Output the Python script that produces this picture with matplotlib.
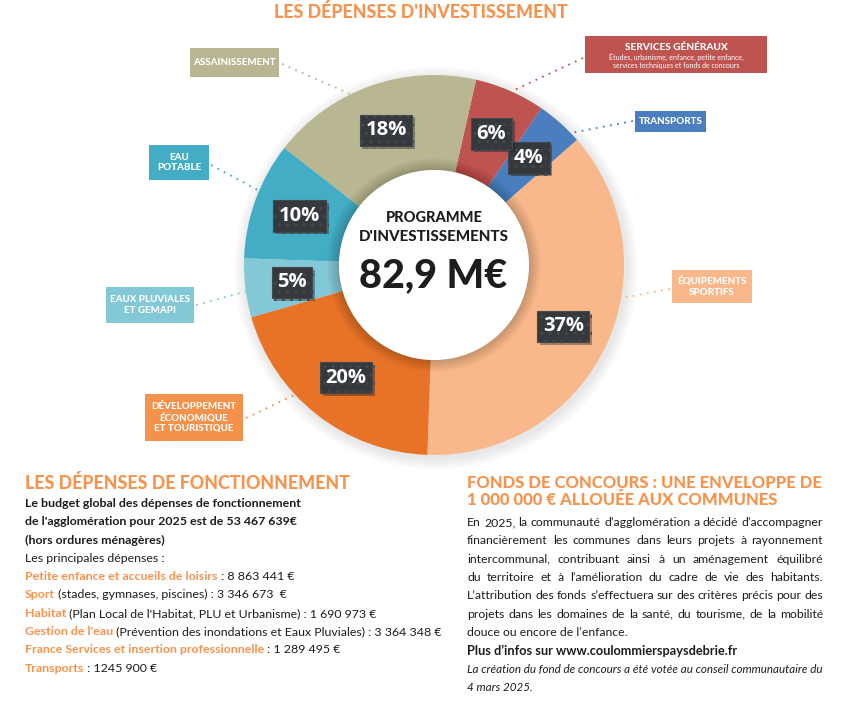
import matplotlib
matplotlib.use('Agg')
import matplotlib.pyplot as plt
import matplotlib.patheffects as pe
from matplotlib.patches import Circle, Rectangle
import numpy as np

W, H = 846, 702

# --- data -------------------------------------------------------------
categories = ['ÉQUIPEMENTS\nSPORTIFS', 'TRANSPORTS', 'SERVICES GÉNÉRAUX', 'ASSAINISSEMENT',
              'EAU\nPOTABLE', 'EAUX PLUVIALES\nET GEMAPI',
              'DÉVELOPPEMENT\nÉCONOMIQUE\nET TOURISTIQUE']
shares = [37, 4, 6, 18, 10, 5, 20]
slice_colors = ['#F8B88B', '#4A7EBE', '#BF5350', '#B9B692', '#42ADC5', '#82C8D7', '#E87327']
box_colors = ['#F8B88B', '#4A7EBE', '#BF5350', '#B9B692', '#42ADC5', '#82C8D7', '#F4914A']
services_detail = ['Études, urbanisme, enfance, petite enfance,',
                   'services techniques et fonds de concours']
total_label = '82,9 M€'

fonct_intro = ['Le budget global des dépenses de fonctionnement',
               "de l'agglomération pour 2025 est de 53 467 639€",
               '(hors ordures ménagères)']
fonct_items = ['Petite enfance et accueils de loisirs', 'Sport', 'Habitat', "Gestion de l'eau",
               'France Services et insertion professionnelle', 'Transports']
fonct_notes = ['', ' (stades, gymnases, piscines)', " (Plan Local de l'Habitat, PLU et Urbanisme)",
               ' (Prévention des inondations et Eaux Pluviales)', '', '']
fonct_values = ['8 863 441 €', '3 346 673  €', '1 690 973 €', '3 364 348 €', '1 289 495 €', '1245 900 €']

fonds_lines = ["En 2025, la communauté d’agglomération a décidé d’accompagner",
               "financièrement les communes dans leurs projets à rayonnement",
               "intercommunal, contribuant ainsi à un aménagement équilibré",
               "du territoire et à l’amélioration du cadre de vie des habitants.",
               "L’attribution des fonds s’effectuera sur des critères précis pour des",
               "projets dans les domaines de la santé, du tourisme, de la mobilité",
               "douce ou encore de l’enfance."]

ORANGE = '#F7934C'
DARK = '#1d1d1b'
FONT = ['Lato', 'DejaVu Sans']
plt.rcParams['font.family'] = FONT

fig = plt.figure(figsize=(8.46, 7.02), dpi=100)
ax = fig.add_axes([0, 0, 1, 1])
renderer = fig.canvas.get_renderer()

def P(y):
    # pixel row (from top) -> data y
    return H - y

def fit(t, width):
    w = t.get_window_extent(renderer).width
    t.set_fontsize(t.get_fontsize() * width / w)
    return t

# --- donut --------------------------------------------------------------
cx, cy, R, r_in = 434, P(265), 190, 95
for k in range(12, 0, -1):
    ax.add_patch(Circle((cx + 2, cy - 3), R + k, fc='black', alpha=0.007, lw=0, zorder=0.5))

wedges, _, autotexts = ax.pie(
    shares, colors=slice_colors, startangle=-92, counterclock=True,
    radius=R, center=(cx, cy), wedgeprops=dict(width=R - r_in, linewidth=0),
    autopct=lambda p: f'{p:.0f}%', pctdistance=0.753,
    textprops=dict(color='white', fontsize=14.5, fontweight='bold', family=['Open Sans', 'DejaVu Sans']))

for t in autotexts:
    t.set_zorder(6)
    t.set_bbox(dict(boxstyle='square,pad=0.28', fc='#35383c', ec='#44474b', lw=0.8, hatch='..'))
    t.get_bbox_patch().set_path_effects([pe.withSimplePatchShadow(offset=(2, -2), alpha=0.35)])

# inner hole with soft shadow
for k in range(12, 0, -1):
    ax.add_patch(Circle((cx, cy), r_in + k, fc='black', alpha=0.014, lw=0, zorder=2))
ax.add_patch(Circle((cx, cy), r_in, fc='white', lw=0, zorder=3))

t = ax.text(cx, P(218), 'PROGRAMME', ha='center', va='center', fontsize=11, fontweight='black',
            color=DARK, zorder=7)
fit(t, 97)
t = ax.text(cx, P(237), "D'INVESTISSEMENTS", ha='center', va='center', fontsize=11,
            fontweight='black', color=DARK, zorder=7)
fit(t, 149)
t = ax.text(cx - 1, P(276), total_label, ha='center', va='center', fontsize=25,
            fontweight='black', color=DARK, zorder=7)
fit(t, 149)

# --- category boxes with dotted leaders ---------------------------------
boxes = [(672, 270, 752, 303), (635, 111, 706, 132), (585, 36, 767, 73), (190, 48, 279, 77),
         (149, 145, 209, 180), (106, 287, 194, 323), (145, 394, 243, 441)]
leader_start = [(670, 289), (633, 121), (583, 58), (282, 64), (211, 165), (196, 305), (246, 418)]
leader_angle = [-10, 44, 66, 116, 157, 188, 223]

for i, (x0, y0, x1, y1) in enumerate(boxes):
    ax.add_patch(Rectangle((x0, P(y1)), x1 - x0, y1 - y0, fc=box_colors[i], lw=0, zorder=4))
    a = np.deg2rad(leader_angle[i])
    ex, ey = cx + R * np.cos(a), cy + R * np.sin(a)
    sx, sy = leader_start[i]
    ax.plot([sx, ex], [P(sy), ey], color=box_colors[i], lw=1.3, ls=(0, (1, 3)), zorder=4)
    xm = (x0 + x1) / 2
    if categories[i] == 'SERVICES GÉNÉRAUX':
        ax.text(xm, P(47), categories[i], ha='center', va='center', fontsize=7.3,
                fontweight='black', color='white', zorder=5)
        for j, s in enumerate(services_detail):
            ax.text(xm, P(57 + 8.5 * j), s, ha='center', va='center', fontsize=5,
                    color='white', zorder=5)
    else:
        ax.text(xm, P((y0 + y1) / 2), categories[i], ha='center', va='center', fontsize=7,
                fontweight='black', color='white', linespacing=1.2, zorder=5)

# --- title --------------------------------------------------------------
t = ax.text(421, P(12), "LES DÉPENSES D'INVESTISSEMENT", ha='center', va='center',
            fontsize=13, fontweight='black', color=ORANGE)
fit(t, 292)

# --- bottom left ----------------------------------------------------------
t = ax.text(25, P(483), 'LES DÉPENSES DE FONCTIONNEMENT', ha='left', va='center',
            fontsize=13, fontweight='black', color=ORANGE)
fit(t, 324)

step = 18.3
base = 507
BODY = 8.9
for i, s in enumerate(fonct_intro):
    ax.text(25, P(base + i * step), s, ha='left', va='baseline', fontsize=BODY,
            fontweight='bold', color=DARK)
ax.text(25, P(base + 3 * step), 'Les principales dépenses :', ha='left', va='baseline',
        fontsize=BODY, color=DARK)

for i, lab in enumerate(fonct_items):
    y = P(base + (4 + i) * step)
    t = ax.text(25, y, lab, ha='left', va='baseline', fontsize=BODY, fontweight='bold',
                color=ORANGE)
    ax.annotate(fonct_notes[i] + ' : ' + fonct_values[i], xy=(1, y), xycoords=(t, 'data'),
                ha='left', va='baseline', fontsize=BODY, color=DARK)

# --- bottom right ---------------------------------------------------------
X0, X1 = 467, 823
t = ax.text(X0, P(483), 'FONDS DE CONCOURS : UNE ENVELOPPE DE', ha='left', va='center',
            fontsize=13, fontweight='black', color=ORANGE)
fit(t, X1 - X0)
ax.text(X0, P(500), '1 000 000 € ALLOUÉE AUX COMMUNES', ha='left', va='center',
        fontsize=t.get_fontsize(), fontweight='black', color=ORANGE)

def justify(y, text, **kw):
    words = text.split(' ')
    ts = [ax.text(0, y, w, ha='left', va='baseline', **kw) for w in words]
    widths = [tt.get_window_extent(renderer).width for tt in ts]
    gap = (X1 - X0 - sum(widths)) / (len(words) - 1)
    x = X0
    for tt, w in zip(ts, widths):
        tt.set_x(x)
        x += w + gap

for i, s in enumerate(fonds_lines):
    y = P(526 + i * step)
    if i < len(fonds_lines) - 1:
        justify(y, s, fontsize=8.8, color=DARK)
    else:
        ax.text(X0, y, s, ha='left', va='baseline', fontsize=8.8, color=DARK)

t = ax.text(X0, P(655), 'Plus d’infos sur www.coulommierspaysdebrie.fr', ha='left', va='baseline',
            fontsize=9, fontweight='bold', color=DARK)
fit(t, 270)
t = ax.text(X0, P(673), 'La création du fond de concours a été votée au conseil communautaire du',
            ha='left', va='baseline', fontsize=8, fontstyle='italic', color=DARK)
fit(t, 357)
ax.text(X0, P(691), '4 mars 2025.', ha='left', va='baseline', fontsize=t.get_fontsize(),
        fontstyle='italic', color=DARK)

ax.set_xlim(0, W)
ax.set_ylim(0, H)
ax.set_aspect('auto')
ax.axis('off')
fig.savefig('out.png', dpi=100, facecolor='white')
